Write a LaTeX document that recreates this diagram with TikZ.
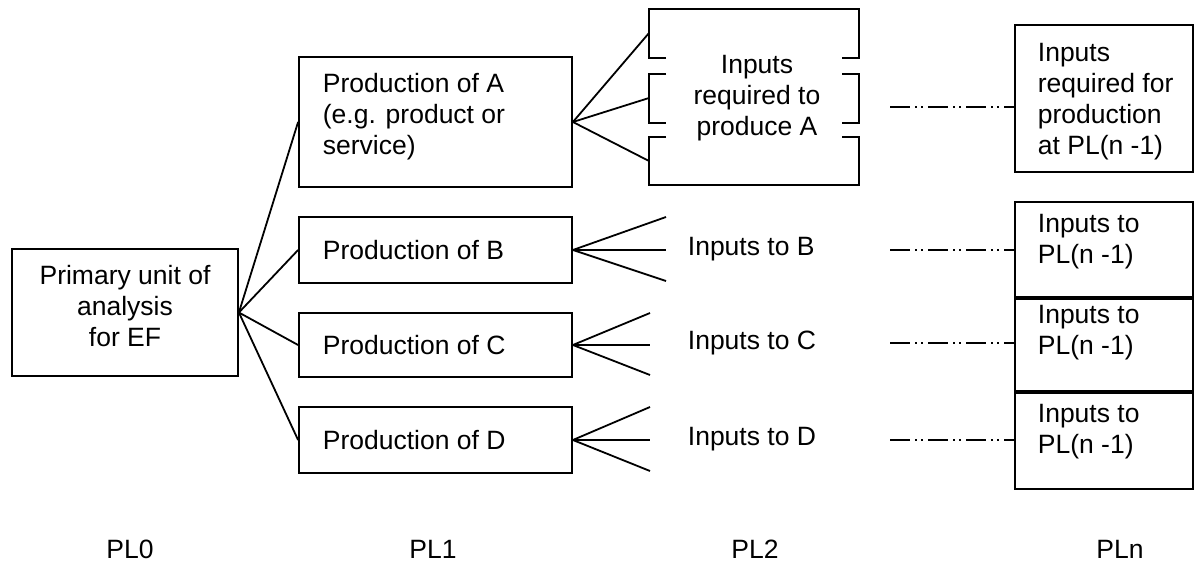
\documentclass[tikz,border=0pt]{standalone}
\usepackage{fontspec}
\setmainfont{Liberation Sans}
\begin{document}
\begin{tikzpicture}[x=1pt,y=-1pt,line width=1.8pt,
  txt/.style={font=\fontsize{26.5}{31}\selectfont,inner sep=0pt},
  box/.style={draw,inner sep=0pt,minimum width=#1},
  box/.default=273,
  ddot/.style={dash pattern=on 20pt off 5pt on 2pt off 4pt on 2pt off 5pt}]
\useasboundingbox (0,0) rectangle (1194,580);

% PL0
\node[box=226,minimum height=127] (p0) at (125,312.5) {};
\node[txt,align=center] (p0t) at (125,306) {Primary unit of\\analysis\\for EF};

% PL1 boxes
\node[box,minimum height=130] (A) at (435.5,122) {};
\node[box,minimum height=66] (B) at (435.5,250) {};
\node[box,minimum height=64] (C) at (435.5,345) {};
\node[box,minimum height=66] (D) at (435.5,440) {};
\node[txt,anchor=west,align=left] (At) at (322,117) {Production of A\\(e.g. product or\\service)};
\node[txt,anchor=west] (Bt) at (322,250) {Production of B};
\node[txt,anchor=west] (Ct) at (322,345) {Production of C};
\node[txt,anchor=west] (Dt) at (322,440) {Production of D};

\foreach \n in {A,B,C,D} \draw (p0.east) -- (\n.west);

% PL2: inputs to A, bracketed frame
\draw (666,58) -- (649,58) -- (649,9) -- (859,9) -- (859,58) -- (842,58);
\draw (666,74) -- (649,74) -- (649,123) -- (666,123);
\draw (842,74) -- (859,74) -- (859,123) -- (842,123);
\draw (666,137) -- (649,137) -- (649,185) -- (859,185) -- (859,137) -- (842,137);
\node[txt,align=center] (inA) at (757,98) {Inputs\\required to\\produce A};
\coordinate (ea1) at (649,33);
\coordinate (ea2) at (649,98);
\coordinate (ea3) at (649,161);
\foreach \e in {ea1,ea2,ea3} \draw (A.east) -- (\e);

% PL2: fans for B, C, D
\coordinate (eb1) at (666,217);
\coordinate (eb2) at (666,250);
\coordinate (eb3) at (666,281);
\coordinate (ec1) at (650,313);
\coordinate (ec2) at (650,345);
\coordinate (ec3) at (650,375);
\coordinate (ed1) at (650,407);
\coordinate (ed2) at (650,440);
\coordinate (ed3) at (650,471);
\foreach \e in {eb1,eb2,eb3} \draw (B.east) -- (\e);
\foreach \e in {ec1,ec2,ec3} \draw (C.east) -- (\e);
\foreach \e in {ed1,ed2,ed3} \draw (D.east) -- (\e);
\node[txt,anchor=west] (inB) at (687,249) {Inputs to B};
\node[txt,anchor=west] (inC) at (687,343) {Inputs to C};
\node[txt,anchor=west] (inD) at (687,439) {Inputs to D};

% PLn boxes
\node[box=178,minimum height=147] (pn0) at (1104,98.5) {};
\node[box=178,minimum height=95] (pn1) at (1104,249.5) {};
\node[box=178,minimum height=92] (pn2) at (1104,345) {};
\node[box=178,minimum height=96] (pn3) at (1104,441) {};
\node[txt,anchor=west,align=left] (pn0t) at (1037,102) {Inputs\\required for\\production\\at PL(n -1)};
\node[txt,anchor=west,align=left] (pn1t) at (1037,242) {Inputs to\\PL(n -1)};
\node[txt,anchor=west,align=left] (pn2t) at (1037,333) {Inputs to\\PL(n -1)};
\node[txt,anchor=west,align=left] (pn3t) at (1037,432) {Inputs to\\PL(n -1)};

% dash-dot-dot continuation lines, each opening with a heavier dash
\coordinate (d0) at (890,107);
\coordinate (d1) at (890,250);
\coordinate (d2) at (890,343);
\coordinate (d3) at (890,440);
\foreach \d/\b in {d0/pn0,d1/pn1,d2/pn2,d3/pn3}{
  \draw[ddot] (\d) -- (\d -| \b.west);
  \draw[line width=2.6pt] (\d) -- ++(14,0);
}

% level labels
\node[txt] (L0) at (130,549) {PL0};
\node[txt] (L1) at (433,549) {PL1};
\node[txt] (L2) at (755,549) {PL2};
\node[txt] (Ln) at (1120,549) {PLn};
\end{tikzpicture}
\end{document}
